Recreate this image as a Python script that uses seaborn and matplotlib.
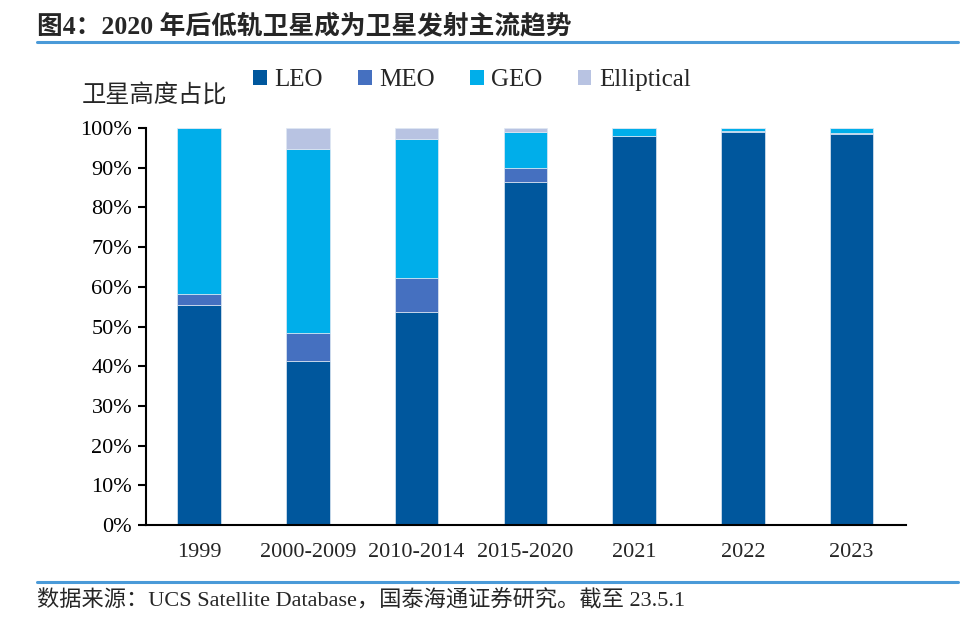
import numpy as np
import pandas as pd
import matplotlib.pyplot as plt
import seaborn as sns
from matplotlib.patches import Patch
from matplotlib.lines import Line2D
from matplotlib.ticker import PercentFormatter

# data (share of satellites by orbit, %)
periods = ['1999', '2000-2009', '2010-2014', '2015-2020', '2021', '2022', '2023']
leo = [55.4, 41.3, 53.7, 86.4, 98.0, 99.0, 98.6]
meo = [2.8, 7.1, 8.5, 3.5, 0.1, 0.2, 0.1]
geo = [41.8, 46.3, 35.0, 9.2, 1.9, 0.8, 1.3]
ell = [0.0, 5.3, 2.8, 0.9, 0.0, 0.0, 0.0]

series = ['LEO', 'MEO', 'GEO', 'Elliptical']
colors = ['#00579d', '#4570c0', '#00aeea', '#b8c3e2']

df = pd.DataFrame({'period': periods, 'LEO': leo, 'MEO': meo, 'GEO': geo, 'Elliptical': ell})
for s in series:
    df[s] = df[s] / 100.0

sns.set_style('white')
plt.rcParams['font.family'] = ['Liberation Serif', 'Noto Sans CJK SC', 'DejaVu Sans']

fig = plt.figure(figsize=(9.78, 6.24), dpi=100)
ax = fig.add_axes([146 / 978, 99 / 624, 760 / 978, 397 / 624])

# stacked bars, one barplot call per orbit type
bottom = np.zeros(len(df))
for s, c in zip(series, colors):
    sns.barplot(data=df, x='period', y=s, order=periods, color=c, width=0.4,
                saturation=1, bottom=bottom, edgecolor='#dfe8f3', linewidth=0.5, ax=ax)
    bottom = bottom + df[s].values

ax.set_xlim(-0.487, 6.5)
ax.set_ylim(0, 1)
ax.set_yticks(np.arange(0, 1.01, 0.1))
ax.yaxis.set_major_formatter(PercentFormatter(1.0, decimals=0))
ax.set_xlabel('')
ax.set_ylabel('')
for sp in ['top', 'right']:
    ax.spines[sp].set_visible(False)
for sp in ['left', 'bottom']:
    ax.spines[sp].set_color('black')
    ax.spines[sp].set_linewidth(1.5)
ax.tick_params(axis='y', direction='out', length=6, width=1.5, left=True,
               labelsize=16, pad=4, colors='black')
ax.tick_params(axis='x', length=0, labelsize=16, pad=13)

# legend
handles = [Patch(facecolor=c, edgecolor='none', label=s) for s, c in zip(series, colors)]
fig.legend(handles=handles, loc='center', bbox_to_anchor=(472 / 978, 1 - 80 / 624),
           ncol=4, frameon=False, fontsize=18, handlelength=0.55, handleheight=0.55,
           handletextpad=0.3, columnspacing=1.4)

# y-axis caption
fig.text(82 / 978, 1 - 95 / 624, '卫星高度占比', fontsize=17.5, ha='left', va='center',
         family=['Noto Sans CJK SC'])

# title and rules
fig.text(37 / 978, 1 - 26 / 624, '图4：2020 年后低轨卫星成为卫星发射主流趋势', fontsize=18.5,
         fontweight='bold', ha='left', va='center',
         family=['Liberation Serif', 'Noto Sans CJK SC'])
fig.add_artist(Line2D([37 / 978, 958 / 978], [1 - 42 / 624, 1 - 42 / 624],
                      color='#4a9ad8', linewidth=2.2, transform=fig.transFigure))
fig.add_artist(Line2D([37 / 978, 958 / 978], [1 - 582 / 624, 1 - 582 / 624],
                      color='#4a9ad8', linewidth=2.2, transform=fig.transFigure))
fig.text(37 / 978, 1 - 601 / 624, '数据来源：UCS Satellite Database，国泰海通证券研究。截至 23.5.1',
         fontsize=16, ha='left', va='center',
         family=['Liberation Serif', 'Noto Sans CJK SC'])

fig.savefig('out.png', dpi=100)
